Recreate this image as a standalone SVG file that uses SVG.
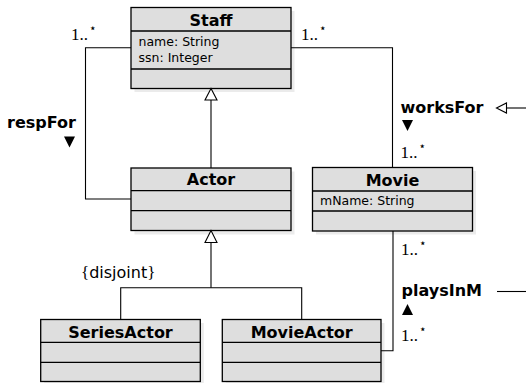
<svg xmlns="http://www.w3.org/2000/svg" width="526" height="383" viewBox="0 0 526 383">
  <style>
    .shadow { fill: #ebebeb; }
    .box { fill: #dedede; stroke: #000; stroke-width: 1.3; }
    .div { stroke: #000; stroke-width: 1.3; fill: none; }
    .title { font-family: "DejaVu Sans", sans-serif; font-weight: bold; font-size: 16px; text-anchor: middle; fill: #000; }
    .attr { font-family: "DejaVu Sans", sans-serif; font-size: 12.5px; fill: #000; }
    .conn { stroke: #000; stroke-width: 1.1; fill: none; }
    .gen { stroke: #000; stroke-width: 1.1; fill: #fff; }
    .mult { font-family: "Liberation Serif", serif; font-size: 17px; fill: #000; }
    .star { font-family: "DejaVu Sans", sans-serif; font-size: 12px; }
    .assoc { font-family: "DejaVu Sans", sans-serif; font-weight: bold; font-size: 16px; fill: #000; }
    .dir { fill: #000; }
  </style>

  <!-- Classes -->
  <g id="Staff">
    <rect class="shadow" x="134.5" y="11" width="160" height="81"/>
    <rect class="box" x="131" y="7.5" width="160" height="81"/>
    <line class="div" x1="131" y1="31" x2="291" y2="31"/>
    <line class="div" x1="131" y1="69" x2="291" y2="69"/>
    <text class="title" x="211" y="25.5">Staff</text>
    <text class="attr" x="138.5" y="45.5">name: String</text>
    <text class="attr" x="138.5" y="61.5">ssn: Integer</text>
  </g>

  <g id="Actor">
    <rect class="shadow" x="134.5" y="171.5" width="160" height="63"/>
    <rect class="box" x="131" y="168" width="160" height="62.5"/>
    <line class="div" x1="131" y1="190.7" x2="291" y2="190.7"/>
    <line class="div" x1="131" y1="210.7" x2="291" y2="210.7"/>
    <text class="title" x="211" y="185.3">Actor</text>
  </g>

  <g id="Movie">
    <rect class="shadow" x="316" y="171" width="160" height="63.5"/>
    <rect class="box" x="312.5" y="167.5" width="160" height="63.5"/>
    <line class="div" x1="312.5" y1="191" x2="472.5" y2="191"/>
    <line class="div" x1="312.5" y1="211" x2="472.5" y2="211"/>
    <text class="title" x="392.5" y="185.5">Movie</text>
    <text class="attr" x="320" y="205">mName: String</text>
  </g>

  <g id="SeriesActor">
    <rect class="shadow" x="44.2" y="323" width="159.6" height="62"/>
    <rect class="box" x="40.7" y="319.5" width="159.6" height="62"/>
    <line class="div" x1="40.7" y1="342.3" x2="200.3" y2="342.3"/>
    <line class="div" x1="40.7" y1="362.3" x2="200.3" y2="362.3"/>
    <text class="title" x="120.5" y="337.5">SeriesActor</text>
  </g>

  <g id="MovieActor">
    <rect class="shadow" x="225.8" y="323" width="158.7" height="62"/>
    <rect class="box" x="222.3" y="319.5" width="158.7" height="62"/>
    <line class="div" x1="222.3" y1="342.3" x2="381" y2="342.3"/>
    <line class="div" x1="222.3" y1="362.3" x2="381" y2="362.3"/>
    <text class="title" x="301.7" y="337.5">MovieActor</text>
  </g>

  <!-- Connectors -->
  <g id="connectors">
    <!-- Actor generalises to Staff -->
    <line class="conn" x1="211" y1="100" x2="211" y2="168"/>
    <polygon class="gen" points="211,88.5 205,100 217,100"/>

    <!-- SeriesActor / MovieActor generalise to Actor -->
    <polyline class="conn" points="120.7,319.5 120.7,287.7 301.7,287.7 301.7,319.5"/>
    <line class="conn" x1="211" y1="243" x2="211" y2="287.7"/>
    <polygon class="gen" points="211,230.5 205,242.5 217,242.5"/>
    <text x="81" y="278" style="font-size:17px;fill:#000"><tspan style="font-family:'Liberation Serif',serif">{</tspan><tspan style="font-family:'DejaVu Sans',sans-serif;font-size:16px">disjoint</tspan><tspan style="font-family:'Liberation Serif',serif">}</tspan></text>

    <!-- respFor: Actor to Staff -->
    <polyline class="conn" points="131,47.7 85.5,47.7 85.5,199 131,199"/>
    <text class="mult" x="71" y="40">1..<tspan class="star" dx="1" dy="-8">⋆</tspan></text>
    <text class="assoc" x="7" y="128">respFor</text>
    <polygon class="dir" points="64,136.5 75,136.5 69.5,147.5"/>

    <!-- worksFor: Staff to Movie -->
    <polyline class="conn" points="291,47.7 392.5,47.7 392.5,167.5"/>
    <text class="mult" x="301" y="40">1..<tspan class="star" dx="1" dy="-8">⋆</tspan></text>
    <text class="mult" x="400.5" y="158">1..<tspan class="star" dx="1" dy="-8">⋆</tspan></text>
    <text class="assoc" x="400.5" y="113">worksFor</text>
    <polygon class="dir" points="402,120 413,120 407.5,131"/>
    <polygon class="gen" points="496.5,108 506.5,103 506.5,113"/>
    <line class="conn" x1="506.5" y1="108" x2="526" y2="108"/>

    <!-- playsInM: MovieActor to Movie -->
    <polyline class="conn" points="393,231 393,350.7 381,350.7"/>
    <text class="mult" x="401" y="255">1..<tspan class="star" dx="1" dy="-8">⋆</tspan></text>
    <text class="mult" x="401" y="341">1..<tspan class="star" dx="1" dy="-8">⋆</tspan></text>
    <text class="assoc" x="401.5" y="296">playsInM</text>
    <polygon class="dir" points="402,315 413,315 407.5,304"/>
    <line class="conn" x1="497" y1="291.5" x2="526" y2="291.5"/>
  </g>
</svg>
